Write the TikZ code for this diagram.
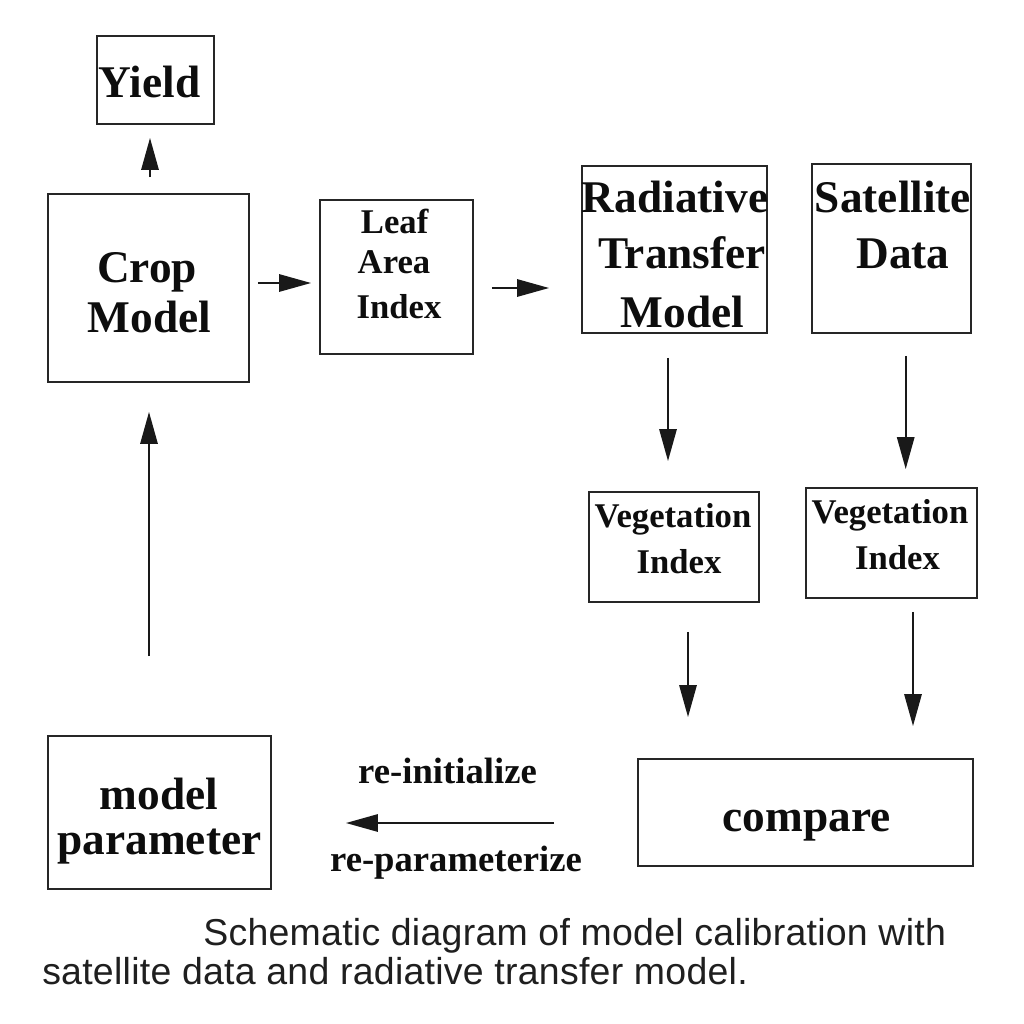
\documentclass[tikz,border=0pt]{standalone}
\usepackage{fontspec}
\setmainfont{Liberation Serif}
\newfontfamily\capfont[LetterSpace=0.7]{Liberation Sans}
\usetikzlibrary{arrows.meta}
\begin{document}
\begin{tikzpicture}[x=0.75pt,y=-0.75pt,
  box/.style={draw=black!85, line width=1.4pt, inner sep=0pt},
  big/.style={font=\bfseries\fontsize{34}{40}\selectfont, anchor=base, inner sep=0pt, text=black!95},
  mid/.style={font=\bfseries\fontsize{26}{31}\selectfont, anchor=base, inner sep=0pt, text=black!95},
  lab/.style={font=\bfseries\fontsize{27.5}{33}\selectfont, anchor=base, inner sep=0pt, text=black!95},
  captxt/.style={font=\capfont\fontsize{28.1}{34}\selectfont, anchor=base west, inner sep=0pt, text=black!88},
  arr/.style={-{Triangle[length=24pt,width=13pt]}, line width=1.5pt, draw=black!90}]
\fill[white] (0,0) rectangle (1024,1024);
\useasboundingbox (0,0) rectangle (1024,1024);

% boxes
\node[box, minimum width=87.75pt,  minimum height=66pt]    (yield) at (155.5,80) {};
\node[box, minimum width=150.75pt, minimum height=141pt]   (crop)  at (148.5,288) {};
\node[box, minimum width=114.75pt, minimum height=115.5pt] (lai)   at (396.5,277) {};
\node[box, minimum width=138.75pt, minimum height=125.25pt](rtm)   at (674.5,249.5) {};
\node[box, minimum width=119.25pt, minimum height=126.75pt](sat)   at (891.5,248.5) {};
\node[box, minimum width=127.5pt,  minimum height=82.5pt]  (vi1)   at (674,547) {};
\node[box, minimum width=128.25pt, minimum height=82.5pt]  (vi2)   at (891.5,543) {};
\node[box, minimum width=167.25pt, minimum height=114.75pt](mp)    at (159.5,812.5) {};
\node[box, minimum width=251.25pt, minimum height=80.25pt] (cmp)   at (805.5,812.5) {};

% texts
\node[big] (tyield) at (149.5,98) {Yield};
\node[big] (tcrop1) at (147,282) {Crop};
\node[big] (tcrop2) at (149.5,332) {Model};
\node[mid] (tlai1) at (394.6,233) {Leaf};
\node[mid] (tlai2) at (394,273) {Area};
\node[mid] (tlai3) at (399,318) {Index};
\node[big] (trtm1) at (675,212) {Radiative};
\node[big] (trtm2) at (682,268) {Transfer};
\node[big] (trtm3) at (682.5,327) {Model};
\node[big] (tsat1) at (893,212) {Satellite};
\node[big] (tsat2) at (903,268) {Data};
\node[mid] (tvi11) at (673,527) {Vegetation};
\node[mid] (tvi12) at (679,573) {Index};
\node[mid] (tvi21) at (890,523) {Vegetation};
\node[mid] (tvi22) at (897.5,569) {Index};
\node[big] (tmp1) at (159,809) {model};
\node[big] (tmp2) at (159.5,854) {parameter};
\node[big] (tcmp) at (806.5,831) {compare};
\node[lab] (treinit) at (447.5,783) {re-initialize};
\node[lab] (trepar) at (456,871) {re-parameterize};

% arrows
\draw[arr, shorten <=12pt, shorten >=9.75pt]
  ([xshift=1.125pt]crop.north) -- ([xshift=1.125pt]crop.north |- yield.south);
\draw[arr, shorten <=6pt, shorten >=6pt]
  ([yshift=3.75pt]crop.east) -- ([yshift=3.75pt]crop.east -| lai.west);
\draw[arr, shorten <=13.5pt, shorten >=24pt]
  ([yshift=-8.25pt]lai.east) -- ([yshift=-8.25pt]lai.east -| rtm.west);
\draw[arr, shorten <=18pt, shorten >=22.5pt]
  ([xshift=-4.875pt]rtm.south) -- ([xshift=-4.875pt]rtm.south |- vi1.north);
\draw[arr, shorten <=16.5pt, shorten >=13.5pt]
  ([xshift=10.65pt]sat.south) -- ([xshift=10.65pt]sat.south |- vi2.north);
\draw[arr, shorten <=21.75pt, shorten >=30.75pt]
  ([xshift=10.5pt]vi1.south) -- ([xshift=10.5pt]vi1.south |- cmp.north);
\draw[arr, shorten <=9.75pt, shorten >=24pt]
  ([xshift=16.125pt]vi2.south) -- ([xshift=16.125pt]vi2.south |- cmp.north);
\draw[arr, shorten <=62.25pt, shorten >=55.5pt]
  ([yshift=-7.875pt]cmp.west) -- ([yshift=-7.875pt]cmp.west -| mp.east);
\draw[arr, shorten <=59.25pt, shorten >=21.75pt]
  ([xshift=-7.875pt]mp.north) -- ([xshift=-7.875pt]mp.north |- crop.south);

% caption
\node[captxt] (cap1) at (203,945) {Schematic diagram of model calibration with};
\node[captxt] (cap2) at (42,984) {satellite data and radiative transfer model.};
\end{tikzpicture}
\end{document}
